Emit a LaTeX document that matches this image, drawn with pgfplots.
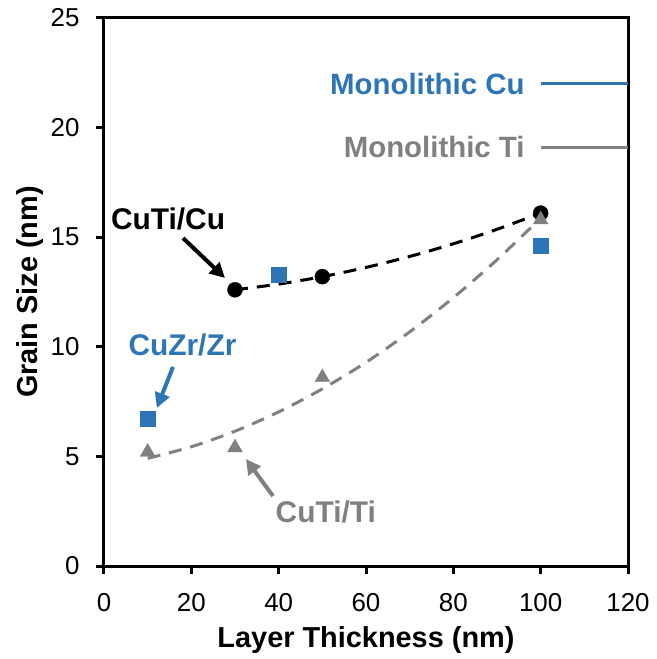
\documentclass[border=0pt]{standalone}
\usepackage{fontspec}
\setmainfont{Liberation Sans}
\usepackage{pgfplots}
\pgfplotsset{compat=1.18}
\usetikzlibrary{arrows.meta}
\definecolor{cblue}{HTML}{2E75B6}
\definecolor{cgray}{HTML}{808080}
\begin{document}
\begin{tikzpicture}
\begin{axis}[
 at={(0,0)}, anchor=south west,
 scale only axis, width=524bp, height=548bp,
 xmin=0,xmax=120,ymin=0,ymax=25,
 xtick={0,20,...,120}, ytick={0,5,...,25},
 tick align=outside, major tick length=8bp,
 xtick pos=bottom, ytick pos=left,
 axis line style={line width=3bp},
 every outer x axis line/.append style={line width=3bp},
 every outer y axis line/.append style={line width=3bp},
 tick style={line width=3bp, black},
 tick label style={font=\fontsize{26}{30}\selectfont},
 xticklabel style={yshift=-16bp},
 yticklabel style={xshift=-13bp},
 /pgf/number format/assume math mode=true,
 xlabel={Layer Thickness (nm)}, ylabel={Grain Size (nm)},
 label style={font=\fontsize{29}{33}\selectfont\bfseries},
 xlabel style={yshift=-8bp},
 ylabel style={yshift=0bp},
 clip=false,
]
\addplot[black, line width=3bp, dash pattern=on 13bp off 9bp, smooth] coordinates {
(30,12.6)(40,12.86)(50,13.2)(60,13.62)(70,14.12)(80,14.7)(90,15.36)(100,16.1)};
\addplot[cgray, line width=3bp, dash pattern=on 13bp off 9bp, smooth] coordinates {
(10,4.91)(20,5.44)(30,6.15)(40,7.03)(50,8.08)(60,9.29)(70,10.68)(80,12.24)(90,13.97)(100,15.87)};
\addplot[cblue, line width=3bp] coordinates {(100,22)(120,22)};
\addplot[cgray, line width=3bp] coordinates {(100,19.1)(120,19.1)};
\addplot[only marks, mark=*, mark size=7.5bp, black] coordinates {(30,12.6)(50,13.2)(100,16.1)};
\addplot[only marks, mark=square*, mark size=7.5bp, cblue] coordinates {(10,6.7)(40,13.3)(100,14.6)};
\addplot[only marks, mark=triangle*, mark size=8.5bp, cgray] coordinates {(10,5.2)(30,5.4)(50,8.6)(100,15.8)};
\node[font=\fontsize{30}{34}\selectfont\bfseries, black] at (axis cs:14.66,15.81) {CuTi/Cu};
\draw[black, line width=4bp, -{Triangle[length=15bp,width=15bp]}] (axis cs:18.1,14.96) -- (axis cs:27.7,13.14);
\node[font=\fontsize{30}{34}\selectfont\bfseries, cblue] at (axis cs:17.97,10.08) {CuZr/Zr};
\draw[cblue, line width=4bp, -{Triangle[length=15bp,width=15bp]}] (axis cs:15.8,9.08) -- (axis cs:12.1,7.21);
\node[font=\fontsize{30}{34}\selectfont\bfseries, cgray] at (axis cs:50.8,2.46) {CuTi/Ti};
\draw[cgray, line width=4bp, -{Triangle[length=15bp,width=15bp]}] (axis cs:38.7,3.19) -- (axis cs:32.5,4.88);
\node[font=\fontsize{29.5}{34}\selectfont\bfseries, cblue, anchor=east] at (axis cs:97.1,22) {Monolithic Cu};
\node[font=\fontsize{29.5}{34}\selectfont\bfseries, cgray, anchor=east] at (axis cs:97.1,19.1) {Monolithic Ti};
\end{axis}
\pgfresetboundingbox
\path[use as bounding box] (-104bp,-93bp) rectangle (553bp,566bp);
\end{tikzpicture}
\end{document}
